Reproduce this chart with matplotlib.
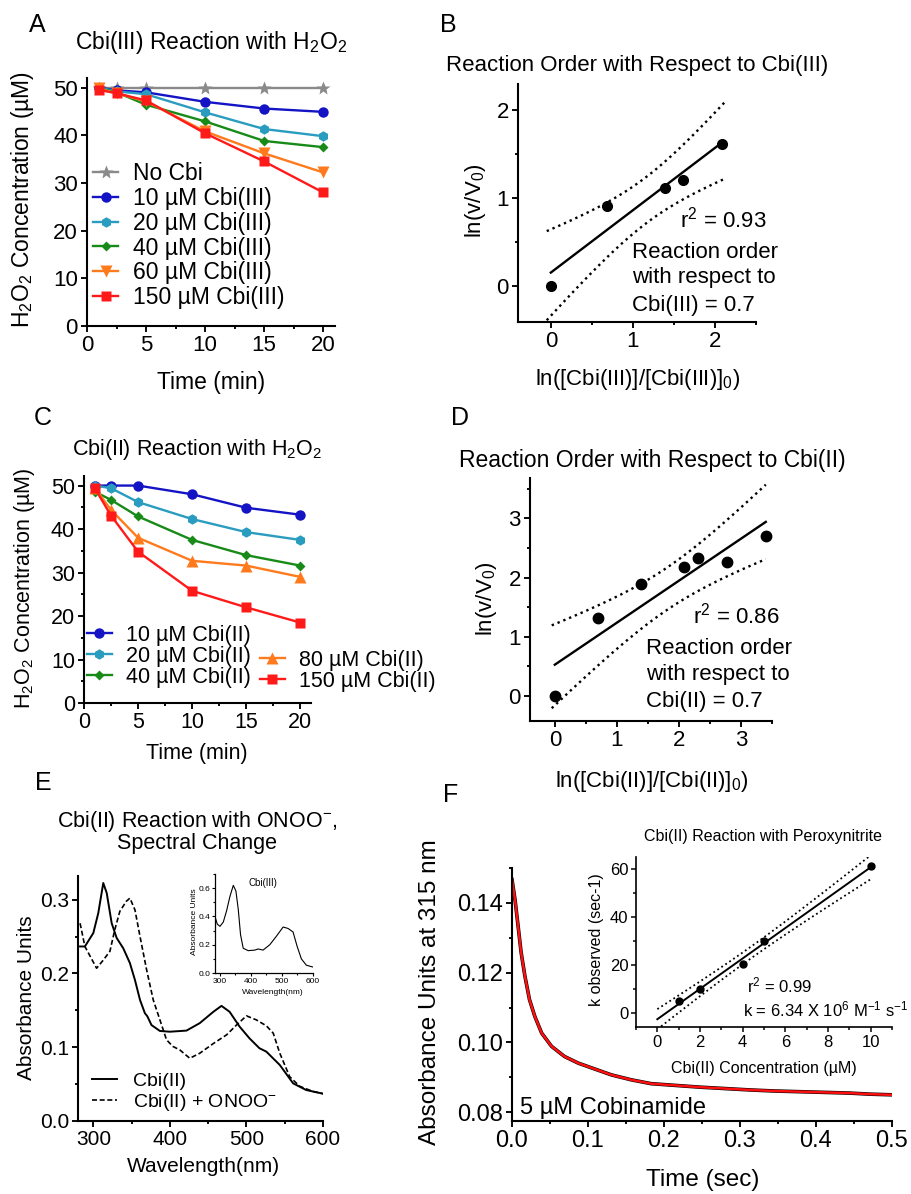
import matplotlib
matplotlib.use('Agg')
import matplotlib.pyplot as plt
import numpy as np
from matplotlib.ticker import MultipleLocator, FormatStrFormatter

plt.rcParams['font.family'] = 'Liberation Sans'
plt.rcParams['mathtext.fontset'] = 'custom'
plt.rcParams['mathtext.rm'] = 'Liberation Sans'
plt.rcParams['mathtext.it'] = 'Liberation Sans:italic'
plt.rcParams['mathtext.default'] = 'regular'

# ---- A: Cbi(III) + H2O2 ----
time_a = [1, 2.5, 5, 10, 15, 20]
a_nocbi = [50, 50, 50, 50, 50, 50]
a_10 = [50, 49.4, 49.0, 47.0, 45.6, 44.9]
a_20 = [50, 49.2, 48.6, 44.8, 41.3, 39.8]
a_40 = [49.8, 49.0, 46.4, 42.9, 38.8, 37.5]
a_60 = [49.8, 48.8, 47.1, 40.8, 36.2, 32.2]
a_150 = [49.5, 48.8, 47.3, 40.4, 34.5, 28.0]

# ---- B: reaction order Cbi(III) ----
b_x = np.array([0, 0.69, 1.39, 1.61, 2.08])
b_y = np.array([0, 0.91, 1.12, 1.21, 1.62])

# ---- C: Cbi(II) + H2O2 ----
time_c = [1, 2.5, 5, 10, 15, 20]
c_10 = [50, 50, 50, 48.0, 44.9, 43.3]
c_20 = [50, 49.4, 46.2, 42.3, 39.3, 37.5]
c_40 = [48.6, 46.7, 42.9, 37.5, 34.0, 31.6]
c_80 = [49.4, 44.4, 38.0, 32.7, 31.6, 29.0]
c_150 = [49.4, 43.1, 34.8, 25.8, 22.0, 18.5]

# ---- D: reaction order Cbi(II) ----
d_x = np.array([0, 0.69, 1.39, 2.08, 2.30, 2.77, 3.40])
d_y = np.array([0, 1.31, 1.89, 2.17, 2.33, 2.26, 2.70])

# ---- E: spectra ----
e_wl_ii = [282.7, 289, 300, 306.5, 313, 317.5, 324, 330.5, 339, 347.8, 354.4, 361,
           367.4, 370.5, 376, 387, 400, 421.7, 439, 456.8, 467.4, 478, 491, 504,
           517, 526, 543.5, 561, 578, 600]
e_abs_ii = [0.2365, 0.2365, 0.2547, 0.2818, 0.3225, 0.309, 0.268, 0.248, 0.2343, 0.214,
            0.191, 0.164, 0.146, 0.142, 0.130, 0.122, 0.121, 0.1225, 0.1326, 0.148,
            0.156, 0.148, 0.128, 0.112, 0.0986, 0.094, 0.076, 0.051, 0.042, 0.037]
e_wl_onoo = [282.7, 289, 304.3, 313, 321.7, 328, 334.6, 343, 347.8, 354.4, 361, 369.6,
             378.3, 387, 395.6, 404, 413, 426, 439, 456.8, 474, 487, 500, 513, 526,
             535, 543.5, 556.5, 569.6, 587, 600]
e_abs_onoo = [0.268, 0.2365, 0.207, 0.218, 0.23, 0.259, 0.284, 0.2976, 0.302, 0.286,
              0.25, 0.205, 0.164, 0.137, 0.110, 0.101, 0.0963, 0.085, 0.0918, 0.105,
              0.1167, 0.130, 0.1425, 0.137, 0.129, 0.119, 0.092, 0.060, 0.047, 0.040, 0.037]
e_wl_iii = [283.9, 291.4, 300, 310.7, 321.4, 332, 343, 351.4, 359, 366.4, 375, 391,
            412.5, 423, 439, 460.7, 482, 503.6, 519.6, 535.7, 548.6, 562.5, 578.6, 600]
e_abs_iii = [0.40, 0.345, 0.33, 0.36, 0.44, 0.54, 0.62, 0.58, 0.45, 0.27, 0.175, 0.158,
             0.162, 0.17, 0.162, 0.20, 0.26, 0.325, 0.315, 0.29, 0.19, 0.10, 0.055, 0.042]

# ---- F: kinetic trace at 315 nm + k_obs inset ----
f_t = [0.000, 0.004, 0.008, 0.012, 0.017, 0.023, 0.030, 0.039, 0.052, 0.069, 0.087,
       0.105, 0.131, 0.157, 0.183, 0.215, 0.247, 0.280, 0.313, 0.345, 0.378, 0.411,
       0.444, 0.470, 0.500]
f_abs = [0.1467, 0.1409, 0.1334, 0.1258, 0.1190, 0.1123, 0.1075, 0.1027, 0.0989, 0.0960,
         0.0941, 0.0927, 0.0907, 0.0893, 0.0882, 0.0877, 0.0872, 0.0868, 0.0864, 0.0861,
         0.0859, 0.0857, 0.0855, 0.0852, 0.0850]
fi_x = np.array([1, 2, 4, 5, 10])
fi_y = np.array([5.0, 9.7, 20.2, 29.8, 61.2])

W, H = 912, 1194
fig = plt.figure(figsize=(W / 100, H / 100), dpi=100)


def box(l, t, r, b):
    return [l / W, 1 - b / H, (r - l) / W, (b - t) / H]


def put(x, y, s, size, ha='center', **kw):
    fig.text(x / W, 1 - y / H, s, fontsize=size, ha=ha, va='center', **kw)


def style(ax, size, lw=1.5, major=4.5, minor=2.5):
    for side in ['top', 'right']:
        ax.spines[side].set_visible(False)
    for side in ['left', 'bottom']:
        ax.spines[side].set_linewidth(lw)
    ax.tick_params(which='major', direction='out', length=major, width=lw * 0.9,
                   labelsize=size, pad=2)
    ax.tick_params(which='minor', direction='out', length=minor, width=lw * 0.9)


def fit_band(x, y, t_crit, xs):
    slope, icpt = np.polyfit(x, y, 1)
    resid = y - (slope * x + icpt)
    s = np.sqrt(np.sum(resid ** 2) / (len(x) - 2))
    sxx = np.sum((x - x.mean()) ** 2)
    half = t_crit * s * np.sqrt(1 / len(x) + (xs - x.mean()) ** 2 / sxx)
    fit = slope * xs + icpt
    return fit, fit - half, fit + half


# ================= A =================
ax = fig.add_axes(box(87, 78, 335, 326))
style(ax, 16)
kw = dict(lw=1.7, mec='none')
ax.plot(time_a, a_nocbi, color='#8a8a8a', marker='*', ms=10, label='No Cbi', **kw)
ax.plot(time_a, a_10, color='#1414c4', marker='o', ms=7.5, label='10 µM Cbi(III)', **kw)
ax.plot(time_a, a_20, color='#2a9cc0', marker='h', ms=7.5, label='20 µM Cbi(III)', **kw)
ax.plot(time_a, a_40, color='#188a18', marker='D', ms=5.5, label='40 µM Cbi(III)', **kw)
ax.plot(time_a, a_60, color='#ff7a1c', marker='v', ms=8.5, label='60 µM Cbi(III)', **kw)
ax.plot(time_a, a_150, color='#ff1a1a', marker='s', ms=7.5, label='150 µM Cbi(III)', **kw)
ax.set_xlim(0, 21)
ax.set_ylim(0, 52)
ax.xaxis.set_major_locator(MultipleLocator(5))
ax.xaxis.set_minor_locator(MultipleLocator(2.5))
ax.yaxis.set_major_locator(MultipleLocator(10))
ax.legend(loc='upper left', bbox_to_anchor=(93 / W, 1 - 162 / H), bbox_transform=fig.transFigure,
          frameon=False, fontsize=16.5, handlelength=1.1, handletextpad=0.65,
          labelspacing=0.08, borderpad=0, borderaxespad=0)
put(37, 25, 'A', 18)
put(211, 43, 'Cbi(III) Reaction with H$_2$O$_2$', 16.5)
put(23, 200, 'H$_2$O$_2$ Concentration (µM)', 16.5, rotation=90)
put(211, 383, 'Time (min)', 16.5)

# ================= B =================
ax = fig.add_axes(box(518, 84, 756, 322))
style(ax, 16)
xs = np.linspace(b_x.min() - 0.05, b_x.max() + 0.05, 60)
fit, lo, hi = fit_band(b_x, b_y, 3.182, xs)
ax.plot(xs, lo, ':', color='black', lw=1.7)
ax.plot(xs, hi, ':', color='black', lw=1.7)
xl = np.array([b_x.min(), b_x.max()])
ax.plot(xl, np.polyval(np.polyfit(b_x, b_y, 1), xl), color='black', lw=1.7)
ax.plot(b_x, b_y, 'o', color='black', ms=7)
ax.set_xlim(-0.4, 2.5)
ax.set_ylim(-0.41, 2.3)
ax.xaxis.set_major_locator(MultipleLocator(1))
ax.xaxis.set_minor_locator(MultipleLocator(0.5))
ax.yaxis.set_major_locator(MultipleLocator(1))
ax.yaxis.set_minor_locator(MultipleLocator(0.5))
put(448, 25, 'B', 18)
put(637, 65, 'Reaction Order with Respect to Cbi(III)', 16)
put(475, 201, 'ln(v/V$_0$)', 16, rotation=90)
put(638, 380, 'ln([Cbi(III)]/[Cbi(III)]$_0$)', 16)
put(680, 220, 'r$^2$ = 0.93', 16, ha='left')
for yy, line in zip([252, 278, 305], ['Reaction order', 'with respect to', 'Cbi(III) = 0.7']):
    put(632, yy, line, 16, ha='left')

# ================= C =================
ax = fig.add_axes(box(84, 476, 311, 703))
style(ax, 15.5)
h10, = ax.plot(time_c, c_10, color='#1414c4', marker='o', ms=7.5, label='10 µM Cbi(II)', **kw)
h20, = ax.plot(time_c, c_20, color='#2a9cc0', marker='h', ms=7.5, label='20 µM Cbi(II)', **kw)
h40, = ax.plot(time_c, c_40, color='#188a18', marker='D', ms=5.5, label='40 µM Cbi(II)', **kw)
h80, = ax.plot(time_c, c_80, color='#ff7a1c', marker='^', ms=8.5, label='80 µM Cbi(II)', **kw)
h150, = ax.plot(time_c, c_150, color='#ff1a1a', marker='s', ms=7.5, label='150 µM Cbi(II)', **kw)
ax.set_xlim(0, 21)
ax.set_ylim(0, 52.2)
ax.xaxis.set_major_locator(MultipleLocator(5))
ax.xaxis.set_minor_locator(MultipleLocator(2.5))
ax.yaxis.set_major_locator(MultipleLocator(10))
ax.yaxis.set_minor_locator(MultipleLocator(5))
legkw = dict(frameon=False, fontsize=15.5, handlelength=1.15, handletextpad=0.65,
             labelspacing=0.0, borderpad=0, borderaxespad=0, loc='upper left',
             bbox_transform=fig.transFigure)
leg1 = ax.legend(handles=[h10, h20, h40], bbox_to_anchor=(87 / W, 1 - 625 / H), **legkw)
ax.add_artist(leg1)
ax.legend(handles=[h80, h150], bbox_to_anchor=(260 / W, 1 - 650 / H), **legkw)
put(43, 418, 'C', 18)
put(197, 450, 'Cbi(II) Reaction with H$_2$O$_2$', 15.5)
put(25, 588, 'H$_2$O$_2$ Concentration (µM)', 15.5, rotation=90)
put(197, 753, 'Time (min)', 15.5)

# ================= D =================
ax = fig.add_axes(box(530, 478, 772, 721))
style(ax, 16)
xs = np.linspace(d_x.min() - 0.05, d_x.max(), 60)
fit, lo, hi = fit_band(d_x, d_y, 2.571, xs)
ax.plot(xs, lo, ':', color='black', lw=1.7)
ax.plot(xs, hi, ':', color='black', lw=1.7)
xl = np.array([d_x.min(), d_x.max()])
ax.plot(xl, np.polyval(np.polyfit(d_x, d_y, 1), xl), color='black', lw=1.7)
ax.plot(d_x, d_y, 'o', color='black', ms=7.5)
ax.set_xlim(-0.4, 3.5)
ax.set_ylim(-0.42, 3.68)
ax.xaxis.set_major_locator(MultipleLocator(1))
ax.xaxis.set_minor_locator(MultipleLocator(0.5))
ax.yaxis.set_major_locator(MultipleLocator(1))
ax.yaxis.set_minor_locator(MultipleLocator(0.5))
put(460, 418, 'D', 18)
put(652, 460, 'Reaction Order with Respect to Cbi(II)', 16.5)
put(487, 599, 'ln(v/V$_0$)', 16, rotation=90)
put(652, 782, 'ln([Cbi(II)]/[Cbi(II)]$_0$)', 16)
put(693, 616, 'r$^2$ = 0.86', 16, ha='left')
for yy, line in zip([648, 675, 702], ['Reaction order', 'with respect to', 'Cbi(II) = 0.7']):
    put(646, yy, line, 16, ha='left')

# ================= E =================
ax = fig.add_axes(box(78, 876, 323, 1121))
style(ax, 15)
ax.plot(e_wl_ii, e_abs_ii, '-', color='black', lw=1.4, label='Cbi(II)')
ax.plot(e_wl_onoo, e_abs_onoo, '--', color='black', lw=1.2, dashes=(3, 1.6),
        label='Cbi(II) + ONOO$^{-}$')
ax.set_xlim(280, 600)
ax.set_ylim(0, 0.332)
ax.xaxis.set_major_locator(MultipleLocator(100))
ax.xaxis.set_minor_locator(MultipleLocator(50))
ax.yaxis.set_major_locator(MultipleLocator(0.1))
ax.yaxis.set_minor_locator(MultipleLocator(0.05))
ax.yaxis.set_major_formatter(FormatStrFormatter('%.1f'))
ax.legend(loc='upper left', bbox_to_anchor=(92 / W, 1 - 1072 / H), bbox_transform=fig.transFigure,
          frameon=False, fontsize=14, handlelength=1.3, handletextpad=0.8,
          labelspacing=0.12, borderpad=0, borderaxespad=0)
put(43, 783, 'E', 18)
put(197, 822, 'Cbi(II) Reaction with ONOO$^{-}$,', 15.5)
put(197, 844, 'Spectral Change', 15.5)
put(27, 998, 'Absorbance Units', 15, rotation=90)
put(203, 1167, 'Wavelength(nm)', 15)

# E inset
axi = fig.add_axes(box(215, 874, 313, 973))
style(axi, 6, lw=0.9, major=2.5, minor=1.5)
axi.plot(e_wl_iii, e_abs_iii, color='black', lw=0.8)
axi.set_xlim(284, 600)
axi.set_ylim(0, 0.70)
axi.xaxis.set_major_locator(MultipleLocator(100))
axi.xaxis.set_minor_locator(MultipleLocator(50))
axi.yaxis.set_major_locator(MultipleLocator(0.2))
axi.yaxis.set_minor_locator(MultipleLocator(0.1))
axi.yaxis.set_major_formatter(FormatStrFormatter('%.1f'))
axi.tick_params(pad=1)
put(263, 883, 'Cbi(III)', 7)
put(195, 922, 'Absorbance Units', 6, rotation=90)
put(273, 993, 'Wavelength(nm)', 6)

# ================= F =================
ax = fig.add_axes(box(512, 868, 892, 1121))
style(ax, 17)
ax.plot(f_t, f_abs, color='black', lw=2.6)
ax.plot(f_t, f_abs, color='#ff1010', lw=1.8)
ax.set_xlim(0, 0.5)
ax.set_ylim(0.0775, 0.150)
ax.xaxis.set_major_locator(MultipleLocator(0.1))
ax.xaxis.set_minor_locator(MultipleLocator(0.05))
ax.yaxis.set_major_locator(MultipleLocator(0.02))
ax.yaxis.set_minor_locator(MultipleLocator(0.01))
ax.xaxis.set_major_formatter(FormatStrFormatter('%.1f'))
ax.yaxis.set_major_formatter(FormatStrFormatter('%.2f'))
put(451, 795, 'F', 18)
put(430, 992, 'Absorbance Units at 315 nm', 17.5, rotation=90)
put(703, 1180, 'Time (sec)', 17.5)
put(520, 1108, '5 µM Cobinamide', 17, ha='left')

# F inset
axi = fig.add_axes(box(636, 857, 892, 1027))
style(axi, 12, lw=1.2, major=3.5, minor=2)
xs = np.linspace(0, fi_x.max(), 60)
fit, lo, hi = fit_band(fi_x, fi_y, 3.182, xs)
axi.plot(xs, lo, ':', color='black', lw=1.3)
axi.plot(xs, hi, ':', color='black', lw=1.3)
axi.plot(xs, fit, color='black', lw=1.4)
axi.plot(fi_x, fi_y, 'o', color='black', ms=5)
axi.set_xlim(-1, 11)
axi.set_ylim(-6, 65)
axi.xaxis.set_major_locator(MultipleLocator(2))
axi.xaxis.set_minor_locator(MultipleLocator(1))
axi.yaxis.set_major_locator(MultipleLocator(20))
axi.yaxis.set_minor_locator(MultipleLocator(10))
put(763, 837, 'Cbi(II) Reaction with Peroxynitrite', 11.5)
put(597, 940, 'k observed (sec-1)', 11.5, rotation=90)
put(764, 1068, 'Cbi(II) Concentration (µM)', 11.5)
put(747, 985, 'r$^2$ = 0.99', 12, ha='left')
put(743, 1009, 'k = 6.34 X 10$^6$ M$^{-1}$ s$^{-1}$', 12, ha='left')

fig.savefig('out.png', dpi=100, facecolor='white')
